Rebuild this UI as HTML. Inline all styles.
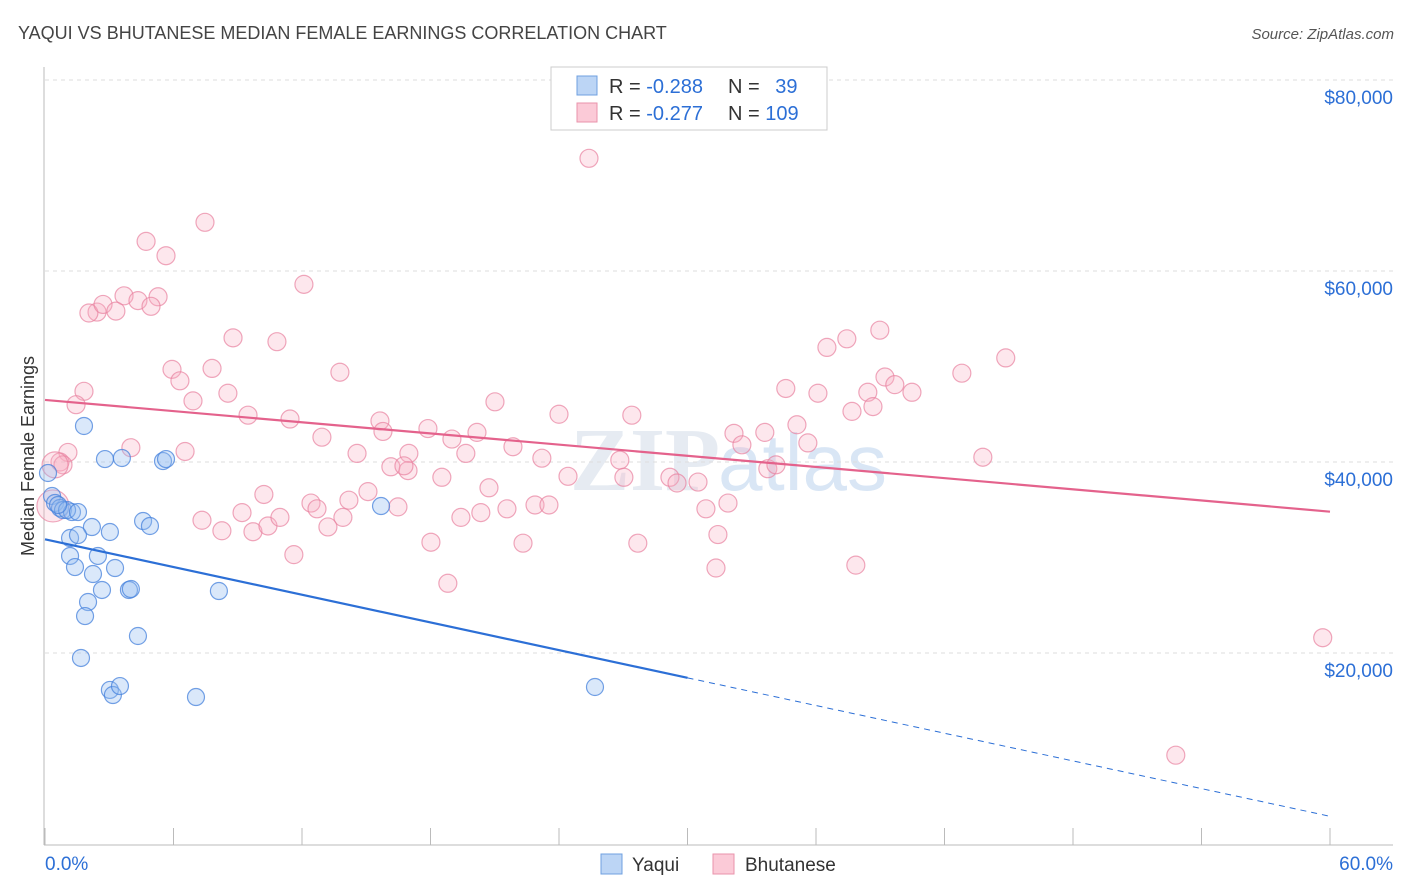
<!DOCTYPE html>
<html><head><meta charset="utf-8"><style>
body{margin:0;background:#fff;font-family:"Liberation Sans",sans-serif;}
svg{display:block}
</style></head><body>
<svg id="chart" width="1406" height="892">
<text x="18" y="39" font-size="18" fill="#444">YAQUI VS BHUTANESE MEDIAN FEMALE EARNINGS CORRELATION CHART</text>
<text x="1394" y="39" font-size="15" fill="#555" font-style="italic" text-anchor="end">Source: ZipAtlas.com</text>
<text x="720" y="490" font-size="90" fill="#e6ebf2" text-anchor="end" font-family="Liberation Serif" font-weight="bold">ZIP</text>
<text x="718" y="490" font-size="80" fill="#d9e6f5">atlas</text>
<g id="grid"></g>
<g id="axes"></g>
<g id="pts"></g>
<g id="lines"></g>
<text transform="translate(34,456) rotate(-90)" font-size="18" fill="#333" text-anchor="middle">Median Female Earnings</text>
<g>
<rect x="551" y="67" width="276" height="63" fill="#fff" stroke="#ccc"/>
<rect x="577" y="76" width="20" height="19" fill="#bcd5f5" stroke="#6fa0e0"/>
<rect x="577" y="103" width="20" height="19" fill="#fbcad7" stroke="#ea93ab"/>
<text x="609" y="93" font-size="20" fill="#333">R = <tspan fill="#2c6fd6">-0.288</tspan></text>
<text x="728" y="93" font-size="20" fill="#333">N = <tspan fill="#2c6fd6" dx="10">39</tspan></text>
<text x="609" y="120" font-size="20" fill="#333">R = <tspan fill="#2c6fd6">-0.277</tspan></text>
<text x="728" y="120" font-size="20" fill="#333">N = <tspan fill="#2c6fd6">109</tspan></text>
</g>
<g>
<rect x="601" y="854" width="21" height="20" fill="#bcd5f5" stroke="#6fa0e0"/>
<text x="632" y="871" font-size="19" fill="#333">Yaqui</text>
<rect x="713" y="854" width="21" height="20" fill="#fbcad7" stroke="#ea93ab"/>
<text x="745" y="871" font-size="19" fill="#333">Bhutanese</text>
</g>
</svg>
<script>
const yTicks=[20000,40000,60000,80000];
const yTickLabels=["$20,000","$40,000","$60,000","$80,000"];
const xTickLabels=["0.0%","60.0%"];
const yaquiX=[0.14,0.33,0.47,0.70,0.84,1.26,1.82,2.19,3.03,2.80,3.59,5.51,5.65,4.58,4.90,1.17,1.54,1.17,2.47,1.40,2.24,3.27,2.66,3.92,4.01,2.01,1.87,4.34,8.12,1.68,3.03,3.17,3.50,7.05,15.69,25.68,1.03,0.61,1.54];
const yaquiY=[38850,36440,35710,35180,34970,34760,43770,33190,32670,40310,40420,40100,40310,33820,33300,32040,32350,30160,30160,29000,28270,28900,26600,26600,26700,25340,23870,21780,26490,19480,16130,15600,16540,15390,35390,16440,34970,35500,34760];
const bhutX=[25.40,7.47,4.72,5.65,12.09,3.69,5.28,2.43,2.05,2.71,3.31,4.34,4.95,8.78,10.83,5.93,6.30,7.80,13.77,6.91,8.54,1.82,1.45,9.48,11.44,12.93,15.64,15.78,17.88,19.00,20.17,21.01,24.00,27.40,21.85,19.65,14.57,16.99,23.20,26.84,1.07,0.70,0.84,4.01,6.54,16.15,16.95,16.76,18.53,20.73,24.42,27.03,29.18,29.51,30.49,32.17,32.54,33.61,35.11,35.62,33.75,34.13,34.59,36.09,36.51,37.44,38.98,37.68,38.42,38.66,39.22,39.68,40.48,42.81,44.86,43.79,10.22,9.20,7.33,8.26,9.71,10.41,10.97,11.62,12.42,12.70,13.21,13.91,14.19,15.08,16.48,18.02,19.42,20.35,21.57,22.32,22.88,23.53,18.81,27.68,30.86,31.42,31.89,31.33,37.86,59.66,52.80,0.37,0.47];
const bhutY=[71.8,65.1,63.1,61.6,58.6,57.4,57.3,55.7,55.6,56.5,55.8,56.9,56.3,53.0,52.6,49.7,48.5,49.8,49.4,46.4,47.2,47.4,46.0,44.9,44.5,42.6,44.3,43.2,43.5,42.4,43.1,46.3,45.0,44.9,41.6,40.9,40.9,40.9,40.4,40.2,41.0,40.0,39.7,41.5,41.1,39.5,39.1,39.6,38.4,37.3,38.5,38.4,38.4,37.8,37.9,43.0,41.8,43.1,43.9,42.0,39.3,39.7,47.7,47.2,52.0,52.9,53.8,45.3,47.3,45.8,48.9,48.1,47.3,49.3,50.9,40.5,36.6,34.7,33.9,32.8,32.7,33.3,34.2,30.3,35.7,35.1,33.2,34.2,36.0,36.9,35.3,31.6,34.2,34.7,35.1,31.5,35.5,35.5,27.3,31.5,35.1,32.4,35.7,28.9,29.2,21.6,9.3,35.4,39.7].map(v=>v*1000);
const bhutR=[];bhutR[107]=16;bhutR[108]=13;
const yaquiTrend=[31900,17400,2900]; // at 0,30,60
const bhutTrend=[46500,34800]; // at 0,60
const NS="http://www.w3.org/2000/svg";
const xs=v=>45+v/60*1285, ys=v=>653-(v-20000)*191/20000;
function mk(tag,attrs,parent){const e=document.createElementNS(NS,tag);for(const k in attrs)e.setAttribute(k,attrs[k]);document.getElementById(parent).appendChild(e);return e;}
yTicks.forEach((t,i)=>{
 const g=mk('line',{x1:45,x2:1393,y1:ys(t),y2:ys(t),stroke:'#ddd','stroke-dasharray':'4,4'},'grid');
 
 
 const l=mk('text',{x:1393,y:ys(t)+24,'font-size':19,fill:'#2c6fd6','text-anchor':'end'},'grid');
 l.textContent=yTickLabels[i];
 
 
});
let a=mk('line',{x1:44,x2:44,y1:67,y2:845,stroke:'#bbb'},'axes');


a=mk('line',{x1:44,x2:1393,y1:845,y2:845,stroke:'#bbb'},'axes');


for(let i=0;i<=10;i++){const t=mk('line',{x1:xs(i*6),x2:xs(i*6),y1:828,y2:845,stroke:'#bbb'},'axes');
 
 }
[[0,'start',45],[1,'end',1393]].forEach(([i,an,x])=>{const t=mk('text',{x:x,y:870,'font-size':19,fill:'#2c6fd6','text-anchor':an},'axes');t.textContent=xTickLabels[i];
 
 });
bhutX.forEach((x,i)=>{const c=mk('circle',{cx:xs(x),cy:ys(bhutY[i]),r:bhutR[i]||9,fill:'rgba(248,175,195,0.3)',stroke:'rgba(232,130,160,0.7)','stroke-width':1.2},'pts');
 
 });
yaquiX.forEach((x,i)=>{const c=mk('circle',{cx:xs(x),cy:ys(yaquiY[i]),r:8.5,fill:'rgba(150,190,240,0.35)',stroke:'rgba(70,130,220,0.75)','stroke-width':1.2},'pts');
 
 });
let ln=mk('line',{x1:xs(0),y1:ys(bhutTrend[0]),x2:xs(60),y2:ys(bhutTrend[1]),stroke:'#e4628c','stroke-width':2.2},'lines');


ln=mk('line',{x1:xs(0),y1:ys(yaquiTrend[0]),x2:xs(30),y2:ys(yaquiTrend[1]),stroke:'#2c6fd6','stroke-width':2.2},'lines');


ln=mk('line',{x1:xs(30),y1:ys(yaquiTrend[1]),x2:xs(60),y2:ys(yaquiTrend[2]),stroke:'#2c6fd6','stroke-width':1,'stroke-dasharray':'6,5'},'lines');


</script>
</body></html>
